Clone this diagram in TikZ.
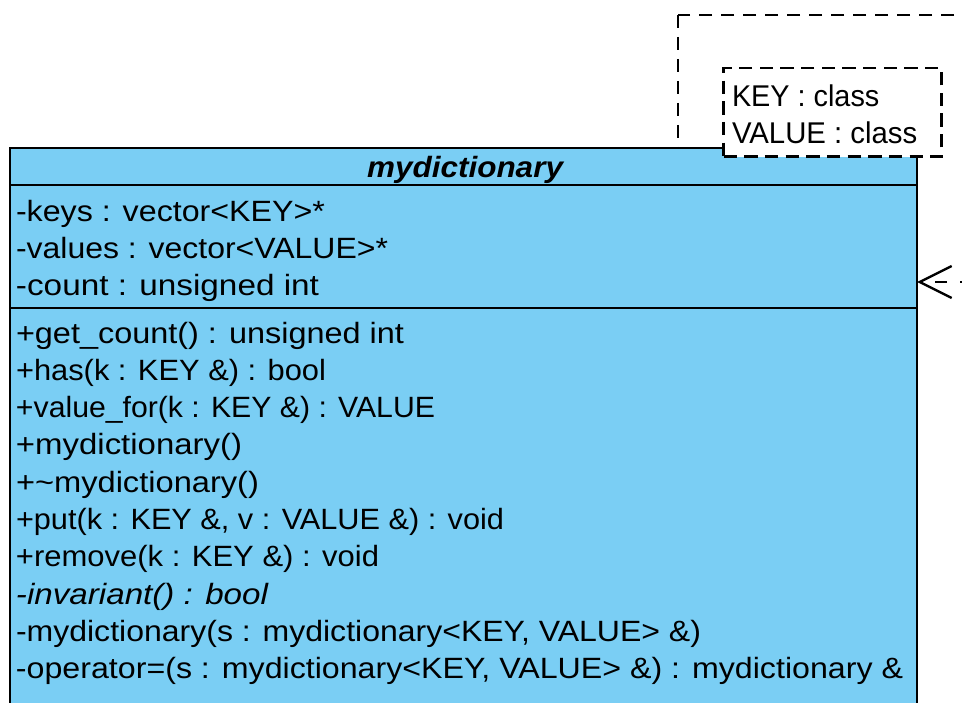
\documentclass[tikz,border=0pt]{standalone}
\usepackage{fontspec}
\setmainfont{Liberation Sans}
\usetikzlibrary{arrows.meta}
\definecolor{clsblue}{RGB}{122,206,244}
\newcommand\fitw[2]{\resizebox{#1pt}{\height}{#2}}
\tikzset{
  classbox/.style={draw=black, fill=clsblue, line width=1.9pt, outer sep=0pt, inner sep=0pt},
  tmplbox/.style={draw=black, fill=white, line width=1.9pt, dash pattern=on 10pt off 5.5pt, outer sep=0pt, inner sep=0pt},
  frame/.style={draw=black, line width=1.9pt, dash pattern=on 10pt off 6.5pt},
  sepline/.style={draw=black, line width=1.7pt},
  txt/.style={inner sep=0pt, outer sep=0pt, anchor=base west, font=\fontsize{22}{26}\selectfont},
  dep/.style={draw=black, line width=1.8pt, dash pattern=on 9pt off 9.75pt,
    -{Straight Barb[length=24pt, width=24pt, line width=1.8pt]}}
}
\begin{document}
\begin{tikzpicture}[x=0.75pt, y=-0.75pt]
\useasboundingbox (0,0) rectangle (962,702);
\clip (0,0) rectangle (962,702);
% outer dashed frame (extends beyond view)
\path[frame] (678,15) rectangle (1100,820);
% class box
\node[classbox, minimum width=680.25pt, minimum height=480pt, anchor=north west] (cls) at (10,148) {};
\path[sepline] (cls.west |- 0,185) -- (cls.east |- 0,185);
\path[sepline] (cls.west |- 0,308) -- (cls.east |- 0,308);
% template parameter box
\node[tmplbox, minimum width=163.5pt, minimum height=66.5pt, anchor=north west] (tmpl) at (723.5,68) {};
\node[txt, font=\fontsize{22.5}{26}\selectfont] (tp1) at (732,106.5) {\fitw{110.5}{KEY : class}};
\node[txt, font=\fontsize{22.5}{26}\selectfont] (tp2) at (732,143.5) {\fitw{139}{VALUE : class}};
% header
\node[txt, font=\fontsize{22}{26}\selectfont\bfseries\itshape] (hdr) at (367,177.5) {\fitw{147}{mydictionary}};
% attributes
\node[txt] (a1) at (16,221) {\fitw{231.75}{-keys : vector<KEY>*}};
\node[txt] (a2) at (16,258) {\fitw{279}{-values : vector<VALUE>*}};
\node[txt] (a3) at (16,295) {\fitw{227.25}{-count : unsigned int}};
% operations
\node[txt] (m1) at (16,343) {\fitw{291}{+get\_count() : unsigned int}};
\node[txt] (m2) at (16,380.3) {\fitw{232.5}{+has(k : KEY \&) : bool}};
\node[txt] (m3) at (16,417.6) {\fitw{314.25}{+value\_for(k : KEY \&) : VALUE}};
\node[txt] (m4) at (16,454.9) {\fitw{169.5}{+mydictionary()}};
\node[txt] (m5) at (16,492.2) {\fitw{182.25}{+\textasciitilde mydictionary()}};
\node[txt] (m6) at (16,529.5) {\fitw{366}{+put(k : KEY \&, v : VALUE \&) : void}};
\node[txt] (m7) at (16,566.8) {\fitw{272.25}{+remove(k : KEY \&) : void}};
\node[txt, font=\fontsize{22}{26}\selectfont\itshape] (m8) at (16,604.1) {\fitw{189}{-invariant() : bool}};
\node[txt] (m9) at (16,641.4) {\fitw{513.75}{-mydictionary(s : mydictionary<KEY, VALUE> \&)}};
\node[txt] (m10) at (16,678.7) {\fitw{665.25}{-operator=(s : mydictionary<KEY, VALUE> \&) : mydictionary \&}};
% dependency arrow entering from the right
\coordinate (src) at (997,282);
\draw[dep] (src) -- (src -| cls.east);
\end{tikzpicture}
\end{document}
